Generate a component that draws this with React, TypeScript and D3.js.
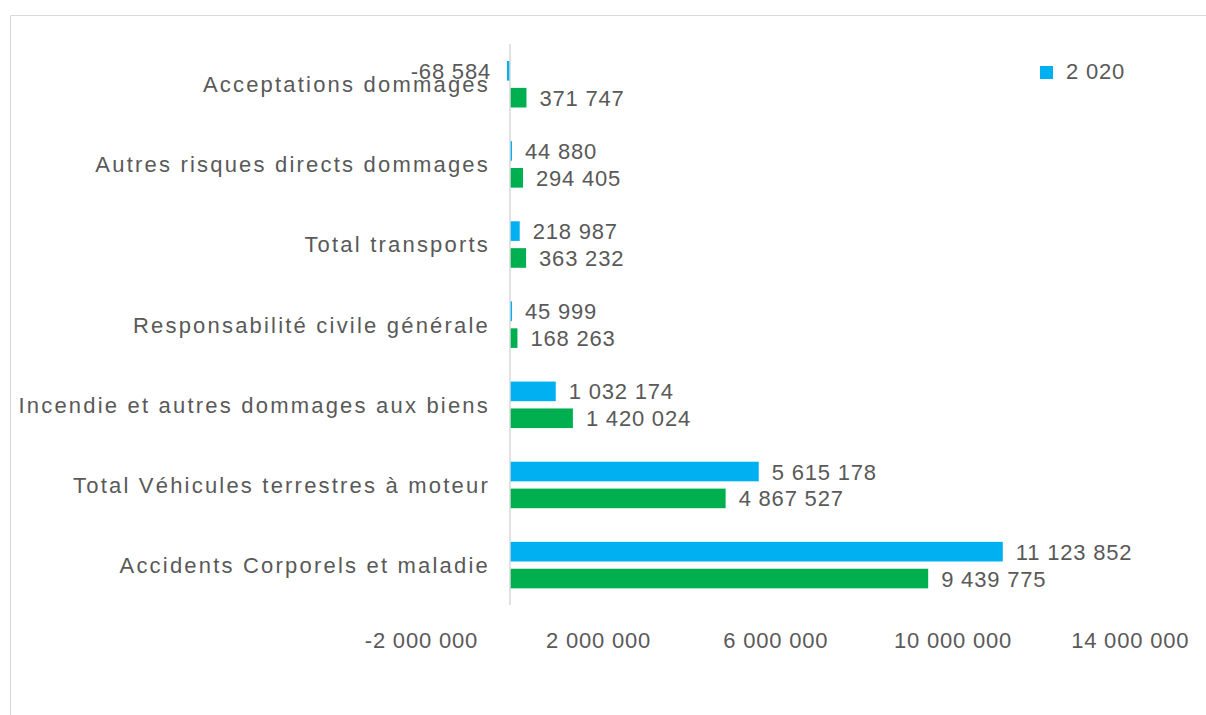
import React from "react";
import * as d3 from "d3";

const categories = [
  "Acceptations dommages",
  "Autres risques directs dommages",
  "Total transports",
  "Responsabilité civile générale",
  "Incendie et autres dommages aux biens",
  "Total Véhicules terrestres à moteur",
  "Accidents Corporels et maladie",
];
const values2020 = [-68584, 44880, 218987, 45999, 1032174, 5615178, 11123852];
const values2021 = [371747, 294405, 363232, 168263, 1420024, 4867527, 9439775];
const seriesNames = ["2 020", "2 021"];
const legendNames = ["2 020"];
const tickValues = [-2000000, 2000000, 6000000, 10000000, 14000000];
const colors = ["#00B0F0", "#00B050"];

const W = 1206;
const H = 715;
const FONT = "'Liberation Sans', Arial, sans-serif";
const TEXT = "#595959";

const locale = d3.formatLocale({
  decimal: ",",
  thousands: " ",
  grouping: [3],
  currency: ["", " €"],
  minus: "-",
});
const fmt = locale.format(",d");

export default function App() {
  const x = d3.scaleLinear().domain([-2000000, 14000000]).range([421.4, 1130.2]);
  const y = d3.scaleBand<string>().domain(categories).range([44, 605]).padding(0);
  const inner = d3
    .scaleBand<string>()
    .domain(seriesNames)
    .range([17, 63.5])
    .paddingInner(0.27)
    .paddingOuter(0);
  const seriesValues = [values2020, values2021];
  const x0 = x(0);

  return (
    <svg
      width={W}
      height={H}
      style={{ position: "absolute", left: 0, top: 0, background: "#fff" }}
      fontFamily={FONT}
    >
      <rect x={0} y={0} width={W} height={H} fill="#fff" />
      {/* chart border */}
      <line x1={10.5} y1={15.5} x2={W + 5} y2={15.5} stroke="#d9d9d9" strokeWidth={1.2} />
      <line x1={10.5} y1={15.5} x2={10.5} y2={H + 5} stroke="#d9d9d9" strokeWidth={1.2} />

      {/* bars */}
      {seriesNames.map((s, si) =>
        categories.map((c, ci) => {
          const v = seriesValues[si][ci];
          const y0 = (y(c) as number) + (inner(s) as number);
          const bw = inner.bandwidth();
          const xa = Math.min(x(0), x(v));
          const wdt = Math.abs(x(v) - x(0));
          return (
            <rect
              key={s + c}
              x={xa}
              y={y0}
              width={Math.max(wdt, 1)}
              height={bw}
              fill={colors[si]}
            />
          );
        })
      )}

      {/* vertical axis line at zero */}
      <line x1={x0} y1={44} x2={x0} y2={605} stroke="#d9d9d9" strokeWidth={1.5} />

      {/* category labels */}
      {categories.map((c) => (
        <text
          key={"cat" + c}
          x={490}
          y={(y(c) as number) + y.bandwidth() / 2 + 8}
          textAnchor="end"
          fontSize={22}
          letterSpacing={2.2}
          fill={TEXT}
        >
          {c}
        </text>
      ))}

      {/* data labels */}
      {seriesNames.map((s, si) =>
        categories.map((c, ci) => {
          const v = seriesValues[si][ci];
          const cy = (y(c) as number) + (inner(s) as number) + inner.bandwidth() / 2;
          const neg = v < 0;
          const lx = neg ? x(v) - 16 : x(Math.max(v, 0)) + 13;
          return (
            <text
              key={"lab" + s + c}
              x={lx}
              y={cy + 8}
              textAnchor={neg ? "end" : "start"}
              fontSize={22}
              letterSpacing={0.8}
              fill={TEXT}
            >
              {fmt(v)}
            </text>
          );
        })
      )}

      {/* x tick labels */}
      {tickValues.map((t) => (
        <text
          key={"t" + t}
          x={x(t)}
          y={648}
          textAnchor="middle"
          fontSize={22}
          letterSpacing={0.8}
          fill={TEXT}
        >
          {fmt(t)}
        </text>
      ))}

      {/* legend */}
      {legendNames.map((n, i) => (
        <g key={"leg" + n}>
          <rect x={1040} y={66 + i * 30} width={13} height={13} fill={colors[i]} />
          <text x={1066} y={79 + i * 30} fontSize={22} letterSpacing={0.8} fill={TEXT}>
            {n}
          </text>
        </g>
      ))}
    </svg>
  );
}
